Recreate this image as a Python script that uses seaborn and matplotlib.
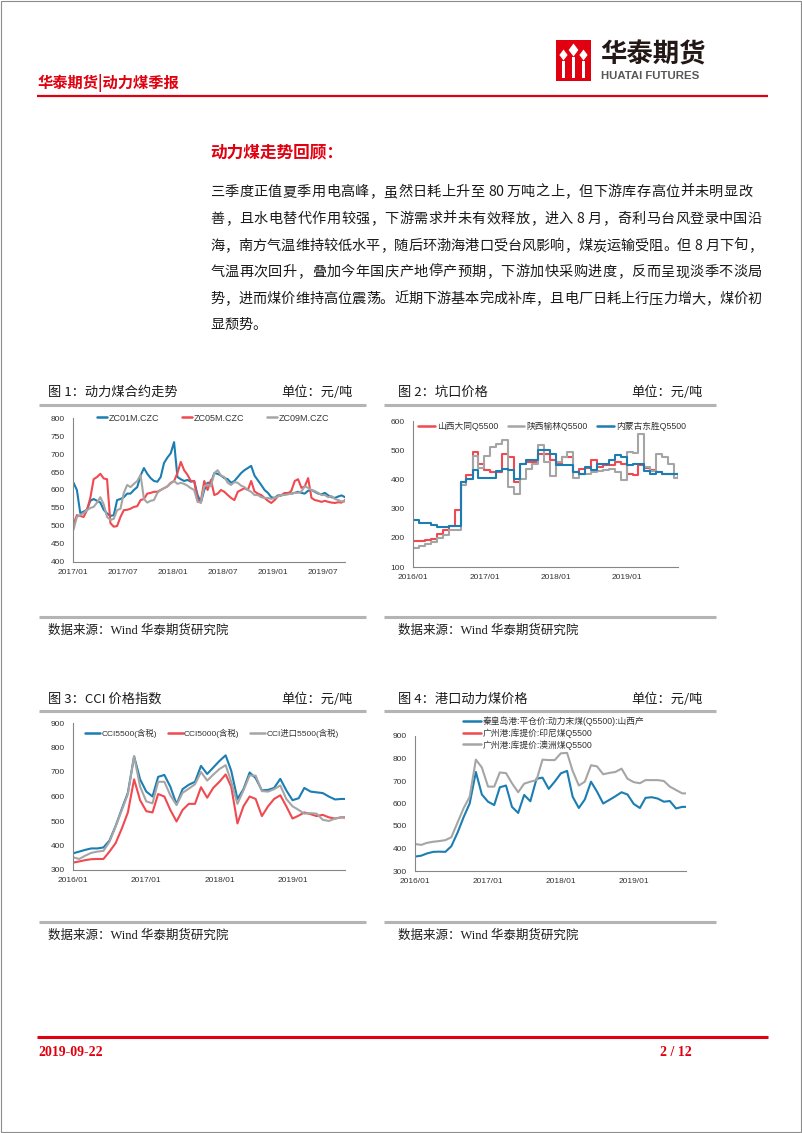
import numpy as np
import pandas as pd
import matplotlib
matplotlib.use('Agg')
import matplotlib.pyplot as plt
import matplotlib.dates as mdates
from matplotlib.lines import Line2D
from matplotlib.patches import Rectangle, Polygon
from matplotlib.font_manager import FontProperties
import seaborn as sns

sns.set_theme(style='white')
plt.rcParams['font.family'] = ['Noto Sans CJK SC', 'DejaVu Sans']
plt.rcParams['axes.unicode_minus'] = False

# ---------------- data ----------------
# Chart 1: 动力煤合约走势 (2017/01 - 2019/09)
c1_dates = pd.date_range('2017-01-03', '2019-09-20', periods=82)
zc01 = [620, 600, 536, 540, 545, 570, 575, 570, 565, 545,
        535, 528, 530, 572, 575, 580, 590, 590, 600, 608,
        640, 661, 645, 633, 625, 623, 636, 675, 690, 702,
        733, 636, 630, 625, 628, 623, 625, 586, 565, 600,
        620, 620, 647, 645, 640, 633, 630, 620, 625, 636,
        647, 655, 661, 667, 640, 627, 614, 600, 592, 580,
        578, 585, 585, 590, 592, 590, 592, 595, 592, 590,
        598, 600, 595, 590, 588, 592, 585, 580, 578, 582,
        585, 580]
zc05 = [505, 530, 528, 525, 544, 578, 630, 636, 645, 632,
        630, 508, 498, 500, 525, 544, 545, 548, 553, 555,
        572, 575, 590, 592, 595, 595, 600, 605, 610, 620,
        625, 647, 678, 655, 642, 625, 625, 572, 570, 625,
        600, 628, 586, 590, 600, 595, 586, 578, 572, 595,
        600, 605, 600, 625, 596, 590, 586, 578, 570, 564,
        572, 583, 585, 592, 590, 598, 625, 630, 606, 610,
        633, 578, 572, 570, 567, 570, 567, 565, 564, 566,
        565, 572]
zc09 = [490, 525, 530, 536, 544, 550, 553, 565, 580, 560,
        525, 517, 520, 544, 548, 592, 614, 608, 617, 625,
        642, 575, 565, 570, 572, 592, 600, 605, 610, 618,
        625, 617, 620, 617, 612, 605, 600, 567, 565, 610,
        615, 610, 647, 655, 640, 636, 620, 614, 622, 620,
        612, 608, 600, 595, 586, 586, 580, 578, 578, 575,
        578, 582, 586, 586, 588, 590, 592, 592, 596, 610,
        606, 600, 597, 592, 586, 586, 580, 583, 575, 572,
        568, 568]
c1_names = ['ZC01M.CZC', 'ZC05M.CZC', 'ZC09M.CZC']
c1_ticks = ['2017-01-01', '2017-07-01', '2018-01-01', '2018-07-01', '2019-01-01', '2019-07-01']

# Charts 2-4: monthly readings 2016/01 - 2019/09 plus last date
months = list(pd.date_range('2016-01-01', periods=45, freq='MS')) + [pd.Timestamp('2019-09-20')]
year_ticks = ['2016-01-01', '2017-01-01', '2018-01-01', '2019-01-01']

# Chart 2: 坑口价格
datong = [190, 190, 192, 197, 214, 226, 240, 294, 391, 414,
          494, 454, 431, 425, 425, 488, 477, 391, 454, 460,
          460, 488, 488, 465, 454, 477, 477, 425, 437, 440,
          465, 442, 448, 448, 460, 454, 420, 414, 448, 440,
          431, 425, 420, 420, 420, 418]
yulin = [165, 172, 180, 186, 200, 210, 226, 226, 380, 400,
         480, 440, 480, 510, 522, 534, 374, 351, 400, 437,
         454, 517, 460, 410, 460, 477, 494, 405, 420, 420,
         425, 428, 431, 435, 425, 397, 495, 490, 557, 442,
         430, 488, 477, 454, 405, 412]
dongsheng = [260, 252, 250, 245, 238, 238, 240, 240, 390, 402,
             431, 405, 405, 405, 430, 437, 431, 403, 454, 465,
             465, 500, 500, 488, 448, 448, 448, 425, 420, 442,
             431, 454, 454, 465, 482, 477, 448, 454, 454, 430,
             420, 425, 420, 420, 420, 418]
c2_names = ['山西大同Q5500', '陕西榆林Q5500', '内蒙古东胜Q5500']

# Chart 3: CCI 价格指数
cci5500 = [368, 375, 382, 388, 388, 392, 420, 480, 550, 615,
           764, 670, 620, 600, 680, 688, 640, 568, 630, 648,
           660, 725, 692, 718, 745, 768, 705, 590, 630, 698,
           675, 625, 627, 635, 672, 625, 585, 593, 635, 620,
           617, 614, 600, 588, 590, 590]
cci5000 = [330, 335, 340, 344, 345, 345, 375, 410, 470, 535,
           670, 585, 540, 535, 610, 600, 545, 498, 545, 570,
           570, 638, 595, 635, 660, 690, 640, 490, 560, 600,
           590, 520, 560, 590, 605, 560, 510, 522, 535, 528,
           520, 525, 515, 510, 515, 515]
cci_imp = [352, 345, 358, 370, 375, 378, 415, 478, 545, 610,
           764, 640, 580, 572, 660, 660, 605, 565, 615, 632,
           650, 700, 665, 689, 712, 728, 660, 570, 625, 686,
           685, 622, 620, 630, 645, 590, 560, 545, 530, 532,
           530, 505, 500, 510, 515, 512]
c3_names = ['CCI5500(含税)', 'CCI5000(含税)', 'CCI进口5500(含税)']

# Chart 4: 港口动力煤价格
qhd = [364, 368, 378, 385, 386, 385, 410, 470, 540, 600,
       740, 640, 608, 593, 672, 680, 585, 558, 638, 610,
       710, 715, 665, 697, 734, 745, 630, 580, 618, 697,
       653, 600, 616, 632, 650, 640, 598, 580, 625, 628,
       622, 608, 611, 578, 585, 585]
gz_indo = []   # listed in legend, no visible data
gz_aus = [420, 416, 425, 430, 433, 437, 450, 515, 580, 630,
          795, 760, 675, 675, 738, 735, 690, 650, 688, 697,
          704, 795, 793, 793, 823, 825, 745, 680, 697, 770,
          765, 730, 736, 740, 755, 710, 695, 690, 704, 704,
          704, 700, 675, 660, 645, 645]
c4_names = ['秦皇岛港:平仓价:动力末煤(Q5500):山西产', '广州港:库提价:印尼煤Q5500', '广州港:库提价:澳洲煤Q5500']

BLUE, RED, GRAY = '#1B7DB2', '#F0494F', '#A5A5A5'
HT_RED = '#E1000F'

# ---------------- figure ----------------
W, H = 802, 1133
fig = plt.figure(figsize=(W / 100, H / 100), dpi=100)
bg = fig.add_axes([0, 0, 1, 1])
bg.set_xlim(0, W)
bg.set_ylim(H, 0)
bg.axis('off')

# page frame
bg.add_patch(Rectangle((0.5, 0.5), 800, 1131.5, fill=False, edgecolor='#8C8C8C', lw=0.8))

# logo
bg.add_patch(Rectangle((556, 40), 35, 41, facecolor=HT_RED, edgecolor='none'))
for cx, cy, r in [(563.5, 55, 5.5), (573.5, 50, 6.5), (583.5, 55, 5.5)]:
    bg.add_patch(Polygon([(cx, cy - r), (cx + r * 0.75, cy), (cx, cy + r), (cx - r * 0.75, cy)],
                         closed=True, facecolor='white', edgecolor='none'))
    bg.add_patch(Rectangle((cx - 1.1, cy + r), 2.2, 78 - cy - r, facecolor='white', edgecolor='none'))
bg.text(600, 55, '华泰期货', fontsize=19, fontweight='bold', color='#231815', ha='left', va='center')
bg.text(601, 76, 'HUATAI FUTURES', fontsize=8.2, fontweight='bold', color='#595757',
        ha='left', va='center', family='Liberation Sans')

# header
bg.text(38, 83, '华泰期货|动力煤季报', fontsize=11, fontweight='bold', color=HT_RED, ha='left', va='center')
bg.plot([37, 768], [96, 96], color=HT_RED, lw=1.6, solid_capstyle='butt')

# section heading and paragraph
bg.text(210, 152, '动力煤走势回顾：', fontsize=12, fontweight='bold', color=HT_RED, ha='left', va='center')
para_lines = [
    '三季度正值夏季用电高峰，虽然日耗上升至 80 万吨之上，但下游库存高位并未明显改',
    '善，且水电替代作用较强，下游需求并未有效释放，进入 8 月，奇利马台风登录中国沿',
    '海，南方气温维持较低水平，随后环渤海港口受台风影响，煤炭运输受阻。但 8 月下旬，',
    '气温再次回升，叠加今年国庆产地停产预期，下游加快采购进度，反而呈现淡季不淡局',
    '势，进而煤价维持高位震荡。近期下游基本完成补库，且电厂日耗上行压力增大，煤价初',
    '显颓势。',
]
para_y = [191, 218, 245, 271, 298, 324]
para_right = [752, 762, 762, 762, 762, None]


def char_w(c):
    if c == ' ':
        return 0.25
    if ord(c) < 128:
        return 0.5
    return 1.0


for line, y, xr in zip(para_lines, para_y, para_right):
    ws = [char_w(c) for c in line]
    unit = (xr - 210) / sum(ws) if xr else 14.2
    x = 210
    for c, w in zip(line, ws):
        if c != ' ':
            bg.text(x + w * unit / 2, y + 5.2, c, fontsize=10.2, color='#1A1A1A', ha='center',
                    va='baseline', family=['Noto Sans CJK SC', 'DejaVu Sans'])
        x += w * unit

# chart frames (titles, rules, sources)
panels = [
    dict(x0=39, x1=366, tx=48, ux=353, ty=392, ly=405, by=617, sy=631, title='图 1：动力煤合约走势'),
    dict(x0=384, x1=716, tx=398, ux=703, ty=392, ly=405, by=617, sy=631, title='图 2：坑口价格'),
    dict(x0=39, x1=366, tx=48, ux=353, ty=699, ly=711, by=922, sy=936, title='图 3：CCI 价格指数'),
    dict(x0=384, x1=716, tx=398, ux=703, ty=699, ly=711, by=922, sy=936, title='图 4：港口动力煤价格'),
]
for p in panels:
    bg.text(p['tx'], p['ty'], p['title'], fontsize=9.5, color='#1A1A1A', ha='left', va='center')
    bg.text(p['ux'], p['ty'], '单位：元/吨', fontsize=9.5, color='#1A1A1A', ha='right', va='center')
    bg.plot([p['x0'], p['x1']], [p['ly'], p['ly']], color='#B4B4B4', lw=2.2, solid_capstyle='butt')
    bg.plot([p['x0'], p['x1']], [p['by'], p['by']], color='#B4B4B4', lw=2.2, solid_capstyle='butt')
    bg.text(p['tx'], p['sy'], '数据来源：Wind 华泰期货研究院', fontsize=9, color='#1A1A1A',
            ha='left', va='center', family=['Liberation Serif', 'Noto Sans CJK SC'])

# footer
bg.plot([37, 768], [1037, 1037], color=HT_RED, lw=2.2, solid_capstyle='butt')
bg.text(38, 1052, '2019-09-22', fontsize=10, fontweight='bold', color=HT_RED, ha='left', va='center',
        family='Liberation Serif')
bg.text(660, 1052, '2 / 12', fontsize=10, fontweight='bold', color=HT_RED, ha='left', va='center',
        family='Liberation Serif')


def make_chart(box, dates, names, values, colors, ylim, yticks, xticks, xlim, step=False):
    l, t, r, b = box
    ax = fig.add_axes([l / W, 1 - b / H, (r - l) / W, (b - t) / H])
    frames = []
    order = []
    for n, v in zip(names, values):
        if len(v) == 0:
            continue
        frames.append(pd.DataFrame({'date': dates, 'value': v, 'series': n}))
        order.append(n)
    df = pd.concat(frames, ignore_index=True)
    sns.lineplot(data=df, x='date', y='value', hue='series', hue_order=order,
                 palette={n: colors[n] for n in order}, estimator=None, ax=ax,
                 lw=1.5, legend=False, drawstyle='steps-post' if step else 'default')
    ax.set_xlim(pd.Timestamp(xlim[0]), pd.Timestamp(xlim[1]))
    ax.set_ylim(*ylim)
    ax.set_yticks(yticks)
    ax.set_xticks([pd.Timestamp(d) for d in xticks])
    ax.xaxis.set_major_formatter(mdates.DateFormatter('%Y/%m'))
    ax.set_xlabel('')
    ax.set_ylabel('')
    for s in ['top', 'right']:
        ax.spines[s].set_visible(False)
    for s in ['left', 'bottom']:
        ax.spines[s].set_color('#868686')
        ax.spines[s].set_linewidth(0.8)
    ax.tick_params(axis='both', direction='out', length=3, width=0.8, color='#868686',
                   labelsize=6, labelcolor='#333333', pad=3, labelfontfamily='Liberation Sans')
    ax.tick_params(axis='x', pad=2)
    ax.patch.set_alpha(0)
    ax.grid(False)
    return ax


def add_legend(ax, box, names, colors, x_px, y_px, ncol, fs, hl, hp, cs, ls=0.2):
    l, t, r, b = box
    handles = [Line2D([], [], color=colors[n], lw=1.8) for n in names]
    ax.legend(handles, names, loc='center left',
              bbox_to_anchor=((x_px - l) / (r - l), (b - y_px) / (b - t)),
              ncol=ncol, frameon=False, borderpad=0, borderaxespad=0,
              handlelength=hl, handletextpad=hp, columnspacing=cs, labelspacing=ls,
              prop=FontProperties(family=['Liberation Sans', 'Noto Sans CJK SC'], size=fs),
              labelcolor='#333333')


# Chart 1
box1 = (73, 418, 345, 562)
col1 = dict(zip(c1_names, [BLUE, RED, GRAY]))
ax1 = make_chart(box1, c1_dates, c1_names, [zc01, zc05, zc09], col1, (400, 800),
                 np.arange(400, 801, 50), c1_ticks, ('2017-01-01', '2019-09-20'))
add_legend(ax1, box1, c1_names, col1, 97, 418, 3, 6.5, 1.1, 0.2, 2.5)

# Chart 2
box2 = (413, 421, 678, 567)
col2 = dict(zip(c2_names, [RED, GRAY, BLUE]))
ax2 = make_chart(box2, months, c2_names, [datong, yulin, dongsheng], col2, (100, 600),
                 np.arange(100, 601, 100), year_ticks, ('2016-01-01', '2019-09-20'), step=True)
add_legend(ax2, box2, c2_names, col2, 418, 426, 3, 6.3, 1.9, 0.25, 1.1)

# Chart 3
box3 = (73, 723, 345, 870)
col3 = dict(zip(c3_names, [BLUE, RED, GRAY]))
ax3 = make_chart(box3, months, c3_names, [cci5500, cci5000, cci_imp], col3, (300, 900),
                 np.arange(300, 901, 100), year_ticks, ('2016-01-01', '2019-09-20'))
add_legend(ax3, box3, c3_names, col3, 85, 733, 3, 6.0, 1.8, 0.15, 1.3)

# Chart 4
box4 = (415, 736, 686, 871)
col4 = dict(zip(c4_names, [BLUE, RED, GRAY]))
ax4 = make_chart(box4, months, c4_names, [qhd, gz_indo, gz_aus], col4, (300, 900),
                 np.arange(300, 901, 100), year_ticks, ('2016-01-01', '2019-09-20'))
add_legend(ax4, box4, c4_names, col4, 463, 733, 1, 6.3, 2.1, 0.15, 1.0, ls=0.25)

fig.savefig('out.png', dpi=100)
